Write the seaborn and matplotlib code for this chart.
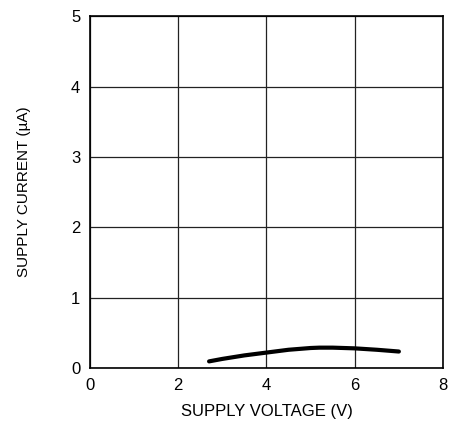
import matplotlib
matplotlib.use("Agg")
import matplotlib.pyplot as plt
import seaborn as sns
import pandas as pd

voltage = [2.7, 3.0, 3.5, 4.0, 4.5, 5.0, 5.2, 5.5, 6.0, 6.5, 7.0]
current = [0.095, 0.13, 0.18, 0.22, 0.26, 0.285, 0.29, 0.29, 0.28, 0.26, 0.235]
x_ticks = [0, 2, 4, 6, 8]
y_ticks = [0, 1, 2, 3, 4, 5]

sns.set_theme(style="white")
plt.rcParams['font.family'] = ['Liberation Sans Narrow', 'Liberation Sans', 'DejaVu Sans']

df = pd.DataFrame({"V": voltage, "I": current})

fig = plt.figure(figsize=(4.61, 4.26), dpi=100)
ax = fig.add_axes([0.195, 0.136, 0.766, 0.826])
sns.lineplot(data=df, x="V", y="I", ax=ax, color="black", linewidth=3, estimator=None, sort=True)

ax.set_xlim(0, 8)
ax.set_ylim(0, 5)
ax.set_xticks(x_ticks)
ax.set_yticks(y_ticks)
ax.grid(True, color="#222222", linewidth=0.9)
ax.set_axisbelow(True)
for s in ax.spines.values():
    s.set_color("black")
    s.set_linewidth(1.2)
ax.tick_params(axis="both", length=0, labelsize=12, colors="black", pad=7)
ax.set_xlabel("SUPPLY VOLTAGE (V)", fontsize=12, color="black", labelpad=8)
ax.set_ylabel("SUPPLY CURRENT (µA)", fontsize=11, color="black", labelpad=29)

fig.savefig("out.png", dpi=100)
